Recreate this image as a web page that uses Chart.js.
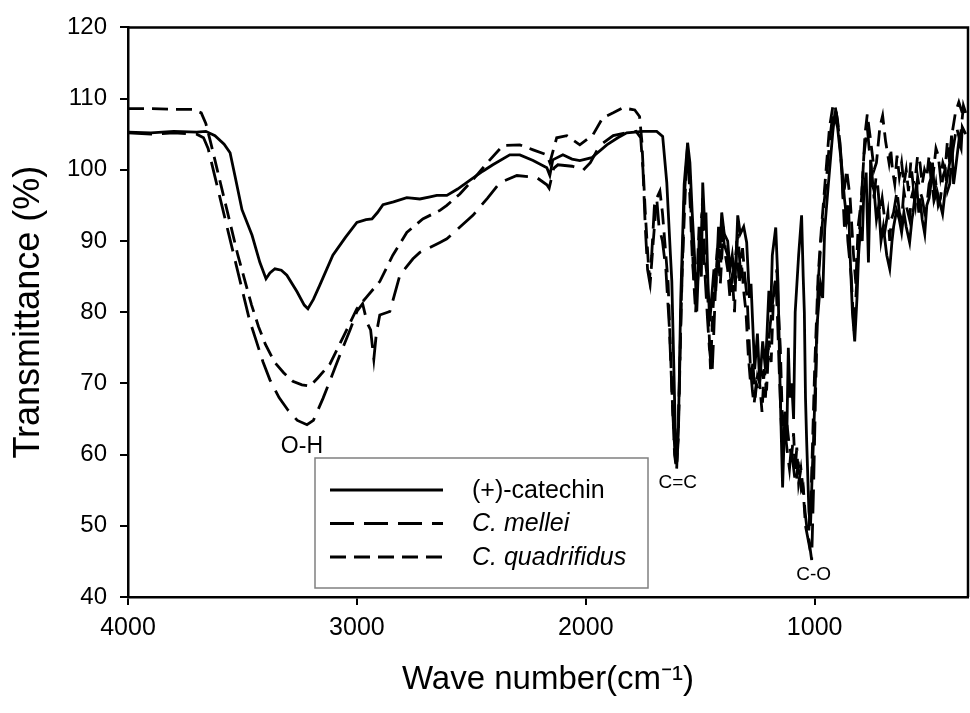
<!DOCTYPE html>
<html>
<head>
<meta charset="utf-8">
<script src="https://cdn.jsdelivr.net/npm/chart.js@4.4.1/dist/chart.umd.min.js"></script>
<style>
  html, body { margin: 0; padding: 0; background: #fff; }
  canvas { display: block; }
</style>
</head>
<body>
<canvas id="ftirChart" width="970" height="713"></canvas>
<script>
// [wave number (cm-1), transmittance (%)]
const catechin = [
  [4000,105.3],[3900,105.2],[3800,105.4],[3700,105.3],[3660,105.4],[3620,104.8],[3580,103.6],[3554,102.4],
  [3533,99.2],[3502,94.4],[3458,90.8],[3424,87.0],[3397,84.7],[3380,85.5],[3358,86.1],[3330,85.9],[3306,85.2],
  [3262,82.9],[3230,81.0],[3214,80.5],[3190,81.8],[3162,83.8],[3105,88.0],[3050,90.5],[3000,92.6],[2960,93.0],
  [2934,93.1],[2910,94.0],[2886,95.1],[2840,95.5],[2782,96.1],[2725,95.9],[2680,96.2],[2651,96.4],[2607,96.4],
  [2560,97.3],[2507,98.5],[2450,99.8],[2406,100.7],[2332,102.1],[2288,102.1],[2230,101.3],[2170,100.3],
  [2157,99.2],[2144,101.4],[2100,102.1],[2060,101.5],[2026,101.3],[1974,101.7],[1908,103.5],[1860,104.5],
  [1821,105.2],[1750,105.4],[1690,105.4],[1664,104.7],[1646,98.2],[1630,88],[1624,84.3],[1615,72],[1608,62],
  [1602,59],[1595,64],[1585,82],[1570,98],[1555,103.8],[1545,101],[1535,94],[1525,88],[1515,80.1],[1508,86],
  [1500,90],[1495,85],[1489,98.2],[1480,92],[1475,94],[1466,84],[1458,78.7],[1450,82],[1440,86],[1432,83],
  [1420,92],[1413,89],[1406,94],[1395,91],[1380,90],[1370,86],[1360,88],[1348,84],[1336,93.6],[1325,91],
  [1310,92],[1297,89.8],[1285,82],[1278,84],[1271,78.7],[1262,72],[1250,77],[1240,70],[1227,75.9],[1215,72],
  [1200,83],[1192,80],[1185,88],[1170,91.9],[1160,84],[1150,68],[1140,55.4],[1130,66],[1122,62],[1115,75],
  [1108,68],[1100,70],[1092,65],[1085,80],[1070,88],[1057,93.6],[1050,85],[1045,80],[1040,68],[1035,62],
  [1025,52],[1018,50],[1010,58],[1005,62],[997,70],[990,78],[975,84],[965,82],[956,91.7],[940,98],[921,105.2],
  [913,107.6],[900,106],[880,100],[870,96],[860,93.1],[852,95],[845,88],[835,80],[825,75.9],[815,82],[808,88],
  [800,92],[792,90],[785,97],[775,99.6],[765,87],[755,101.4],[748,98],[740,97],[730,93],[720,95],[710,90],
  [700,92],[685,88],[672,86.1],[662,90],[655,92],[642,94.3],[630,93],[620,91.2],[610,94],[600,92],[585,89.8],
  [575,93],[570,94],[555,98.2],[545,94],[540,96],[530,93],[519,91.0],[510,95],[500,96],[492,98],[485,101.0],
  [475,96],[465,97],[450,95],[441,93.8],[430,97],[420,99],[410,101],[402,104.8],[393,98],[385,100],[370,104],
  [360,103],[355,106],[340,105]
];

const mellei = [
  [4000,105.2],[3900,105.0],[3800,105.2],[3700,105.0],[3670,104.5],[3650,103],[3620,99],[3590,95],[3560,91],
  [3530,87],[3500,83],[3470,79],[3440,76],[3410,73],[3380,70.5],[3340,68],[3300,66.2],[3260,64.8],[3218,64.2],
  [3190,64.8],[3148,67.9],[3110,71],[3074,74.0],[3030,77.5],[3000,80.1],[2975,81.2],[2955,78.5],[2940,77.5],
  [2926,73.4],[2915,77],[2900,79.6],[2856,80.1],[2812,85.2],[2755,87.5],[2725,88.4],[2637,89.8],[2607,90.3],
  [2493,93.6],[2430,96],[2375,98.2],[2301,99.2],[2214,98.9],[2170,97.9],[2160,97.4],[2140,100.2],[2122,100.7],
  [2060,100.5],[2039,100.3],[2013,99.9],[1980,101],[1939,103.4],[1880,104.8],[1821,105.2],[1780,105.4],
  [1760,104.5],[1750,100],[1740,92],[1730,86],[1722,84.5],[1712,88],[1700,95],[1690,96],[1680,92],[1665,90],
  [1650,86],[1635,78],[1620,66],[1610,60],[1604,58.2],[1596,62],[1585,78],[1570,96],[1558,102],[1545,99],
  [1538,92],[1530,86],[1518,81],[1510,85],[1505,90],[1492,94],[1484,88],[1475,83],[1468,79],[1460,75],
  [1448,71.5],[1442,76],[1435,82],[1428,86],[1420,90],[1410,87],[1400,92],[1390,89],[1380,88],[1368,84],
  [1355,86],[1345,88],[1335,91],[1325,86],[1315,89],[1305,85],[1295,82],[1288,77],[1280,72],[1272,69],
  [1265,67],[1255,70],[1245,69],[1235,72],[1225,71],[1215,68],[1205,74],[1195,78],[1185,81],[1170,85],
  [1162,79],[1155,72],[1148,66],[1140,60],[1132,64],[1125,62],[1118,60],[1110,58],[1102,61],[1095,59],
  [1088,57],[1080,56],[1072,59],[1065,57],[1058,55],[1050,55.5],[1042,52],[1035,50],[1025,48],[1013,45.2],
  [1005,55],[995,70],[985,84],[970,91],[960,95],[950,98],[935,104],[920,108],[910,108.8],[900,107],[885,102],
  [870,92],[862,95],[855,90],[840,85],[828,77],[815,85],[800,94],[792,98],[785,102],[770,106],[762,103],
  [755,101],[740,96],[732,99],[725,98],[715,94],[705,96],[690,92],[680,94],[672,90],[665,93],[655,94],
  [640,97],[630,94],[620,93],[610,97],[600,95],[585,93],[578,96],[570,97],[560,95],[550,99],[540,97],
  [530,96],[520,94],[510,95],[500,98],[490,99],[480,96],[470,98],[460,95],[450,96],[440,99],[430,100],
  [420,97],[410,98],[402,101],[395,103],[380,106],[365,104],[350,109],[340,108]
];

const quadrifidus = [
  [4000,108.6],[3900,108.6],[3800,108.5],[3720,108.5],[3680,108.0],[3660,106.5],[3640,104],[3610,100],
  [3580,96],[3550,92],[3520,88],[3490,84.5],[3460,81],[3430,78],[3400,75.5],[3360,73],[3320,71.5],[3280,70.3],
  [3240,69.8],[3205,69.6],[3170,70.8],[3118,72.7],[3060,76.5],[3000,80.5],[2956,82.2],[2900,84.3],[2843,88.0],
  [2782,91.2],[2712,93.1],[2637,94.3],[2607,95.0],[2550,96.6],[2493,98.6],[2430,101],[2362,103.4],[2288,103.5],
  [2230,102.8],[2170,102.1],[2157,101.0],[2127,104.5],[2083,104.8],[2026,103.5],[1969,104.9],[1926,107.3],
  [1880,108],[1838,108.7],[1786,108.4],[1765,107.5],[1755,104],[1740,94],[1725,86],[1718,84.3],[1705,90],
  [1690,96],[1676,97],[1665,94],[1640,84],[1625,70],[1612,60],[1603,57.8],[1595,65],[1580,85],[1560,101],
  [1550,100],[1535,88],[1520,80],[1505,92],[1498,86],[1490,96],[1480,88],[1470,85],[1462,78],[1455,72],
  [1445,80],[1435,85],[1425,89],[1412,84],[1400,91],[1390,88],[1380,86],[1370,82],[1360,85],[1350,80],
  [1340,90],[1330,84],[1320,87],[1310,83],[1300,80],[1290,74],[1280,70],[1270,73],[1260,68],[1250,71],
  [1240,70],[1230,66],[1220,72],[1210,69],[1200,76],[1190,73],[1180,82],[1165,86],[1158,80],[1150,75],
  [1142,66],[1135,62],[1128,66],[1120,64],[1110,61],[1100,60],[1092,63],[1085,58],[1078,61],[1070,56],
  [1060,58],[1050,55],[1040,50],[1028,48],[1015,55],[1000,72],[985,85],[970,92],[950,100],[935,106],
  [920,109],[905,108],[890,104],[875,96],[860,100],[845,96],[830,88],[820,84],[810,92],[795,96],[780,105],
  [770,107.8],[755,104],[740,100],[730,101],[715,106],[703,107.6],[690,104],[675,101],[668,103],[660,100],
  [650,98],[640,102],[630,99],[620,101],[610,98],[600,100],[590,97],[580,101],[570,98],[560,99],[550,102],
  [540,101],[530,98],[520,100],[510,99],[500,102],[490,98],[480,100],[470,103],[460,102],[450,99],[440,101],
  [430,100],[420,104],[410,101],[400,105],[385,108],[370,109.5],[355,108],[340,109]
];

const seriesNames = ['(+)-catechin', 'C. mellei', 'C. quadrifidus'];
const seriesDash = [[], [24, 10], [16, 8]];
const yTicks = [40, 50, 60, 70, 80, 90, 100, 110, 120];
const xTicks = [4000, 3000, 2000, 1000];

// band labels: [text, wave number, transmittance, font size]
const bandLabels = [
  ['O-H', 3240, 61.1, 23],
  ['C=C', 1598, 56.1, 19],
  ['C-O', 1004, 43.1, 19]
];

const FONT = "'Liberation Sans', Arial, sans-serif";

const toPoints = arr => arr.map(p => ({ x: p[0], y: p[1] }));

// kader atas + kanan
const framePlugin = {
  id: 'frame',
  afterDraw(chart) {
    const { ctx, chartArea: a } = chart;
    ctx.save();
    ctx.strokeStyle = '#000';
    ctx.lineWidth = 2.5;
    ctx.beginPath();
    ctx.moveTo(a.left, a.top);
    ctx.lineTo(a.right, a.top);
    ctx.lineTo(a.right, a.bottom);
    ctx.stroke();
    ctx.restore();
  }
};

// label pita serapan di posisi data
const bandPlugin = {
  id: 'bands',
  afterDatasetsDraw(chart) {
    const { ctx, scales } = chart;
    ctx.save();
    ctx.fillStyle = '#000';
    ctx.textAlign = 'center';
    ctx.textBaseline = 'middle';
    bandLabels.forEach(b => {
      ctx.font = b[3] + 'px ' + FONT;
      ctx.fillText(b[0], scales.x.getPixelForValue(b[1]), scales.y.getPixelForValue(b[2]));
    });
    ctx.restore();
  }
};

// legenda dalam kotak
const legendBoxPlugin = {
  id: 'legendBox',
  afterDraw(chart) {
    const ctx = chart.ctx;
    const box = { x: 315, y: 458, w: 333, h: 130 };
    ctx.save();
    ctx.fillStyle = '#fff';
    ctx.fillRect(box.x, box.y, box.w, box.h);
    ctx.strokeStyle = '#808080';
    ctx.lineWidth = 1.5;
    ctx.strokeRect(box.x, box.y, box.w, box.h);
    chart.data.datasets.forEach((ds, i) => {
      const y = box.y + 32 + i * 33.5;
      ctx.strokeStyle = '#000';
      ctx.lineWidth = 2.8;
      ctx.setLineDash(ds.borderDash || []);
      ctx.beginPath();
      ctx.moveTo(box.x + 15, y);
      ctx.lineTo(box.x + 128, y);
      ctx.stroke();
      ctx.setLineDash([]);
      ctx.fillStyle = '#000';
      ctx.textBaseline = 'middle';
      ctx.textAlign = 'left';
      ctx.font = (i === 0 ? '' : 'italic ') + '25px ' + FONT;
      ctx.fillText(ds.label, box.x + 157, y + 1);
    });
    ctx.restore();
  }
};

const datasets = [catechin, mellei, quadrifidus].map((s, i) => ({
  label: seriesNames[i],
  data: toPoints(s),
  borderColor: '#000',
  borderWidth: 2.8,
  borderDash: seriesDash[i],
  pointRadius: 0,
  fill: false,
  tension: 0
}));

const ctx = document.getElementById('ftirChart').getContext('2d');
const ftirChart = new Chart(ctx, {
  type: 'line',
  data: { datasets: datasets },
  options: {
    responsive: false,
    animation: false,
    devicePixelRatio: 1,
    layout: { padding: { top: 24, right: 2, left: 0, bottom: 0 } },
    plugins: {
      legend: { display: false },
      tooltip: { enabled: false }
    },
    scales: {
      x: {
        type: 'linear',
        reverse: true,
        min: 330,
        max: 4000,
        afterBuildTicks: scale => { scale.ticks = xTicks.map(v => ({ value: v })); },
        afterFit: scale => { scale.height = 116; },
        ticks: {
          color: '#000',
          font: { family: FONT, size: 25 },
          padding: 8,
          maxRotation: 0,
          callback: value => String(value)
        },
        grid: { drawOnChartArea: false, tickLength: 8, color: '#000', lineWidth: 2 },
        border: { color: '#000', width: 2.5 },
        title: {
          display: true,
          text: 'Wave number(cm\u207B\u00B9)',
          color: '#000',
          font: { family: FONT, size: 33 },
          padding: { top: 0, bottom: 13 }
        }
      },
      y: {
        min: 40,
        max: 120,
        afterBuildTicks: scale => { scale.ticks = yTicks.map(v => ({ value: v })); },
        afterFit: scale => { scale.width = 128; },
        ticks: { color: '#000', font: { family: FONT, size: 24 }, padding: 13, callback: value => String(value) },
        grid: { drawOnChartArea: false, tickLength: 8, color: '#000', lineWidth: 2 },
        border: { color: '#000', width: 2.5 },
        title: {
          display: true,
          text: 'Transmittance (%)',
          color: '#000',
          font: { family: FONT, size: 36 },
          padding: { top: 7, bottom: 0 }
        }
      }
    }
  },
  plugins: [framePlugin, bandPlugin, legendBoxPlugin]
});
</script>
</body>
</html>
